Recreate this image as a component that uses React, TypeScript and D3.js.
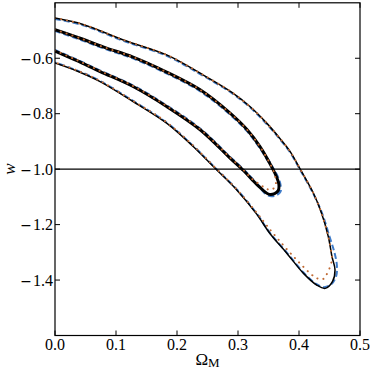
import React, { useEffect, useRef } from 'react'
import * as d3 from 'd3'

// contour points [Omega_M, w]
const outerBlack: [number, number][] = [
  [0.000, -0.455], [0.046, -0.478], [0.112, -0.534], [0.183, -0.588], [0.238, -0.654],
  [0.290, -0.723], [0.320, -0.775], [0.347, -0.834], [0.369, -0.890], [0.385, -0.935],
  [0.402, -1.000], [0.4235, -1.086], [0.437, -1.159], [0.448, -1.243], [0.454, -1.315],
  [0.459, -1.363], [0.455, -1.405], [0.443, -1.430], [0.429, -1.418], [0.407, -1.375],
  [0.380, -1.303], [0.352, -1.231], [0.331, -1.163], [0.298, -1.075], [0.262, -0.996],
  [0.227, -0.919], [0.183, -0.834], [0.128, -0.756], [0.074, -0.684], [0.035, -0.645],
  [0.000, -0.617],
]

const outerBlue: [number, number][] = [
  [0.000, -0.458], [0.046, -0.481], [0.112, -0.537], [0.183, -0.591], [0.238, -0.657],
  [0.290, -0.726], [0.320, -0.778], [0.347, -0.837], [0.369, -0.893], [0.385, -0.938],
  [0.402, -1.003], [0.4235, -1.089], [0.438, -1.160], [0.450, -1.243], [0.458, -1.300],
  [0.462, -1.345], [0.461, -1.385], [0.453, -1.415], [0.441, -1.426], [0.428, -1.414],
  [0.407, -1.372], [0.380, -1.301], [0.352, -1.229], [0.331, -1.161], [0.298, -1.073],
  [0.262, -0.994], [0.227, -0.917], [0.183, -0.832], [0.128, -0.754], [0.074, -0.682],
  [0.035, -0.643], [0.000, -0.615],
]

const outerOrange: [number, number][] = [
  [0.000, -0.455], [0.046, -0.478], [0.112, -0.534], [0.183, -0.588], [0.238, -0.654],
  [0.290, -0.723], [0.320, -0.775], [0.347, -0.834], [0.369, -0.890], [0.385, -0.935],
  [0.402, -1.000], [0.4235, -1.086], [0.437, -1.159], [0.448, -1.243], [0.453, -1.300],
  [0.454, -1.325], [0.451, -1.352], [0.445, -1.381], [0.440, -1.396], [0.430, -1.394],
  [0.421, -1.381], [0.396, -1.327], [0.369, -1.261], [0.347, -1.203], [0.331, -1.158],
  [0.298, -1.073], [0.262, -0.993], [0.227, -0.916], [0.183, -0.831], [0.128, -0.754],
  [0.074, -0.682], [0.035, -0.643], [0.000, -0.615],
]

const innerBlack: [number, number][] = [
  [0.000, -0.497], [0.040, -0.527], [0.080, -0.560], [0.128, -0.596], [0.183, -0.650],
  [0.238, -0.714], [0.287, -0.798], [0.315, -0.858], [0.336, -0.919], [0.355, -0.991],
  [0.363, -1.027], [0.367, -1.055], [0.366, -1.077], [0.360, -1.088], [0.350, -1.090],
  [0.336, -1.066], [0.322, -1.035], [0.309, -1.005], [0.287, -0.960], [0.238, -0.858],
  [0.183, -0.774], [0.128, -0.702], [0.074, -0.648], [0.035, -0.608], [0.000, -0.574],
]

const innerBlue: [number, number][] = [
  [0.000, -0.500], [0.040, -0.530], [0.080, -0.563], [0.128, -0.599], [0.183, -0.653],
  [0.238, -0.717], [0.287, -0.801], [0.315, -0.861], [0.336, -0.922], [0.356, -0.993],
  [0.365, -1.030], [0.369, -1.058], [0.369, -1.080], [0.362, -1.093], [0.350, -1.094],
  [0.337, -1.068], [0.322, -1.033], [0.309, -1.003], [0.287, -0.958], [0.238, -0.856],
  [0.183, -0.772], [0.128, -0.700], [0.074, -0.646], [0.035, -0.606], [0.000, -0.572],
]

const innerOrange: [number, number][] = [
  [0.000, -0.497], [0.040, -0.527], [0.080, -0.560], [0.128, -0.596], [0.183, -0.650],
  [0.238, -0.714], [0.287, -0.798], [0.315, -0.858], [0.336, -0.919], [0.355, -0.991],
  [0.361, -1.027], [0.362, -1.054], [0.357, -1.072], [0.349, -1.073], [0.341, -1.063],
  [0.322, -1.033], [0.309, -1.003], [0.287, -0.958], [0.238, -0.856], [0.183, -0.772],
  [0.128, -0.700], [0.074, -0.646], [0.035, -0.606], [0.000, -0.572],
]

const xTicks = [0.0, 0.1, 0.2, 0.3, 0.4, 0.5]
const yTicks = [-1.4, -1.2, -1.0, -0.8, -0.6]
const wLine = -1.0

const W = 374
const H = 374
const left = 55, right = 360, top = 2.8, bottom = 335.5
const font = "'Liberation Serif', 'Times New Roman', serif"
const minusFont = "'DejaVu Serif', serif"   // wider minus, like the mathtext one

export default function App() {
  const ref = useRef<SVGSVGElement>(null)

  useEffect(() => {
    const svg = d3.select(ref.current)
    svg.selectAll('*').remove()

    const x = d3.scaleLinear().domain([0, 0.5]).range([left, right])
    const y = d3.scaleLinear().domain([-1.6, -0.4]).range([bottom, top])

    svg.append('defs').append('clipPath').attr('id', 'plotclip')
      .append('rect')
      .attr('x', left).attr('y', top)
      .attr('width', right - left).attr('height', bottom - top)

    const plot = svg.append('g').attr('clip-path', 'url(#plotclip)')

    const line = d3.line<[number, number]>()
      .x(d => x(d[0]))
      .y(d => y(d[1]))
      .curve(d3.curveCatmullRom.alpha(0.5))

    // blue dashed first, black on top, then orange dots
    const blue = '#3f7bc8'
    const orange = '#c06a34'
    plot.append('path').datum(outerBlue).attr('d', line)
      .attr('fill', 'none').attr('stroke', blue).attr('stroke-width', 2)
      .attr('stroke-dasharray', '6,3')
    plot.append('path').datum(innerBlue).attr('d', line)
      .attr('fill', 'none').attr('stroke', blue).attr('stroke-width', 3)
      .attr('stroke-dasharray', '6,3')

    plot.append('path').datum(outerBlack).attr('d', line)
      .attr('fill', 'none').attr('stroke', '#000').attr('stroke-width', 1.5)
    plot.append('path').datum(innerBlack).attr('d', line)
      .attr('fill', 'none').attr('stroke', '#000').attr('stroke-width', 3)

    plot.append('path').datum(outerOrange).attr('d', line)
      .attr('fill', 'none').attr('stroke', orange).attr('stroke-width', 2)
      .attr('stroke-linecap', 'round').attr('stroke-dasharray', '0.1,6')
    plot.append('path').datum(innerOrange).attr('d', line)
      .attr('fill', 'none').attr('stroke', orange).attr('stroke-width', 2)
      .attr('stroke-linecap', 'round').attr('stroke-dasharray', '0.1,6')

    // w = -1 line
    svg.append('line')
      .attr('x1', left).attr('x2', right)
      .attr('y1', y(wLine)).attr('y2', y(wLine))
      .attr('stroke', '#000').attr('stroke-width', 1.3)

    // frame
    svg.append('rect')
      .attr('x', left).attr('y', top)
      .attr('width', right - left).attr('height', bottom - top)
      .attr('fill', 'none').attr('stroke', '#000').attr('stroke-width', 1.2)

    // inward ticks on all four sides
    const tl = 5
    xTicks.forEach(t => {
      svg.append('line').attr('x1', x(t)).attr('x2', x(t))
        .attr('y1', bottom).attr('y2', bottom - tl).attr('stroke', '#000')
      svg.append('line').attr('x1', x(t)).attr('x2', x(t))
        .attr('y1', top).attr('y2', top + tl).attr('stroke', '#000')
      svg.append('text').attr('x', x(t)).attr('y', bottom + 14)
        .attr('text-anchor', 'middle').style('font-family', font).style('font-size', '16px')
        .text(d3.format('.1f')(t))
    })
    yTicks.forEach(t => {
      svg.append('line').attr('x1', left).attr('x2', left + tl)
        .attr('y1', y(t)).attr('y2', y(t)).attr('stroke', '#000')
      svg.append('line').attr('x1', right).attr('x2', right - tl)
        .attr('y1', y(t)).attr('y2', y(t)).attr('stroke', '#000')
      const lab = svg.append('text').attr('x', left - 2).attr('y', y(t)).attr('dy', '0.35em')
        .attr('text-anchor', 'end').style('font-family', font).style('font-size', '16px')
      lab.append('tspan').style('font-family', minusFont).style('font-size', '14px').text('\u2212')
      lab.append('tspan').attr('dx', 1).text(d3.format('.1f')(Math.abs(t)))
    })

    // axis labels
    const xl = svg.append('text')
      .attr('x', (left + right) / 2).attr('y', 365)
      .attr('text-anchor', 'middle').style('font-family', font).style('font-size', '17px')
    xl.append('tspan').text('\u03a9')
    xl.append('tspan').style('font-size', '13px').attr('dy', 2).text('M')

    svg.append('text')
      .attr('transform', `translate(15,${(top + bottom) / 2}) rotate(-90)`)
      .attr('text-anchor', 'middle').style('font-family', font).style('font-size', '17px')
      .style('font-style', 'italic')
      .text('w')
  }, [])

  return (
    <svg ref={ref} width={W} height={H}
      style={{ position: 'absolute', left: 0, top: 0, background: '#fff' }} />
  )
}
